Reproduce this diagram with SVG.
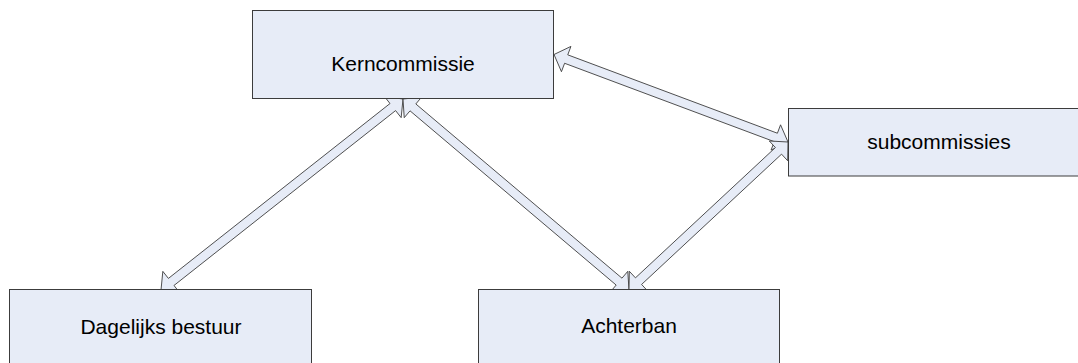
<svg xmlns="http://www.w3.org/2000/svg" width="1078" height="363" viewBox="0 0 1078 363">
<style>
.box{fill:#E7ECF7;stroke:#3c3c3c;stroke-width:1}
.arr{fill:#E7ECF7;stroke:#3c3c3c;stroke-width:0.9;stroke-linejoin:miter}
.lbl{font-family:"Liberation Sans",Arial,sans-serif;font-size:21px;fill:#000;text-anchor:middle}
</style>
<rect width="1078" height="363" fill="#fff"/>
<g id="connectors">
<polygon class="arr" points="403,99 384.43,96.46 390.01,103.52 168.42,278.41 162.84,271.35 161,290 179.57,292.54 173.99,285.48 395.58,110.59 401.16,117.65"/>
<polygon class="arr" points="403,99 404.22,117.7 410.02,110.83 616.17,285.05 610.36,291.92 629,290 627.79,271.3 621.98,278.17 415.83,103.96 421.64,97.08"/>
<polygon class="arr" points="554,54.5 561.45,71.7 564.6,63.27 774.25,141.66 771.09,150.09 788,142 780.55,124.8 777.4,133.23 567.75,54.84 570.91,46.41"/>
<polygon class="arr" points="788,142 769.29,140.98 775.42,147.56 635.45,277.85 629.32,271.26 629,290 647.71,291.03 641.58,284.44 781.55,154.15 787.68,160.74"/>
</g>
<g id="kerncommissie">
<rect class="box" x="252.5" y="10.5" width="301" height="88"/>
<text class="lbl" x="403" y="71">Kerncommissie</text>
</g>
<g id="subcommissies">
<rect class="box" x="788.5" y="108.5" width="301" height="67.5"/>
<text class="lbl" x="939" y="149">subcommissies</text>
</g>
<g id="dagelijks-bestuur">
<rect class="box" x="9.5" y="289.5" width="302" height="80"/>
<text class="lbl" x="161" y="334">Dagelijks bestuur</text>
</g>
<g id="achterban">
<rect class="box" x="478.5" y="289.5" width="301" height="80"/>
<text class="lbl" x="629" y="333">Achterban</text>
</g>
</svg>
